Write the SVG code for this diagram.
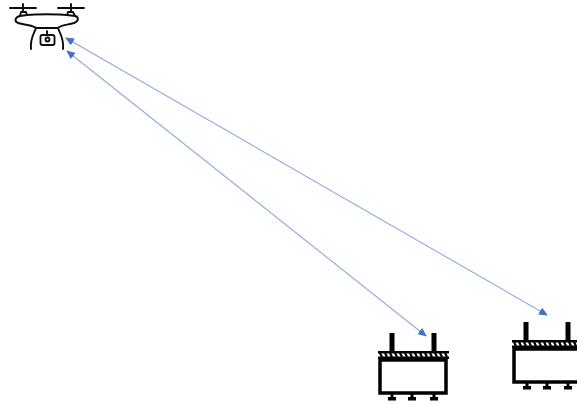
<svg xmlns="http://www.w3.org/2000/svg" width="577" height="405" viewBox="0 0 577 405">
<defs>
<filter id="soft" x="-5%" y="-5%" width="110%" height="110%"><feGaussianBlur stdDeviation="0.45"/></filter>
<marker id="ah" markerWidth="9" markerHeight="8" refX="8" refY="4" orient="auto-start-reverse" markerUnits="userSpaceOnUse"><path d="M0 0L9 4L0 8Z" fill="#4472c4"/></marker>
<g id="beam">
<rect x="0" y="0" width="71" height="2.500" fill="#000"/>
<rect x="0" y="5.500" width="71" height="2.500" fill="#000"/>
<path d="M2 2l2 4M7 2l2 4M12 2l2 4M17 2l2 4M22 2l2 4M27 2l2 4M32 2l2 4M37 2l2 4M42 2l2 4M47 2l2 4M52 2l2 4M57 2l2 4M62 2l2 4M67 2l2 4" stroke="#000" stroke-width="2.200" fill="none"/>
</g>
<g id="foot"><rect x="-1.500" y="0" width="3" height="6" fill="#000"/><rect x="-4" y="3" width="8" height="3.500" fill="#000"/></g>
</defs>
<style>
.c{stroke:#8faadc;stroke-width:1.100;fill:none;marker-start:url(#ah);marker-end:url(#ah)}
.d{stroke:#111;stroke-width:1.900;fill:none;stroke-linecap:round;stroke-linejoin:round}
</style>
<rect width="577" height="405" fill="#fff"/>
<g id="connectors">
<line class="c" x1="66" y1="38" x2="547" y2="315"/>
<line class="c" x1="67" y1="51" x2="426" y2="336"/>
</g>
<g id="drone" filter="url(#soft)">
<path class="d" d="M10 8H36M58 8H84M23 4V12M71 4V12"/>
<path class="d" d="M20 16L21 12H26L27 15M67 15L68 12H73L75 16"/>
<path class="d" d="M27 15C36 14 58 14 67 15L75 16C79 17 79 21 74 23C68 25 60 25 58 28H36C34 25 24 25 18 23C14 21 15 17 20 16Z"/>
<path class="d" d="M36 28C34 34 30 38 31 49M58 28C60 34 64 38 63 49"/>
<rect class="d" x="40.500" y="35" width="14" height="10" rx="2" stroke-width="2.200"/>
<circle class="d" cx="47.500" cy="39.500" r="2"/>
<path class="d" d="M47 31V34"/>
</g>
<g id="building1" filter="url(#soft)">
<rect x="389.500" y="333" width="5" height="19" fill="#000"/>
<rect x="431.500" y="333" width="5" height="19" fill="#000"/>
<use href="#beam" x="378" y="351"/>
<rect x="380" y="360" width="66" height="33" fill="#fff" stroke="#000" stroke-width="3.500"/>
<use href="#foot" x="392" y="394"/><use href="#foot" x="412" y="394"/><use href="#foot" x="434" y="394"/>
</g>
<g id="building2" filter="url(#soft)">
<rect x="523.500" y="322" width="5" height="19" fill="#000"/>
<rect x="565.500" y="322" width="5" height="19" fill="#000"/>
<use href="#beam" x="512" y="340"/>
<rect x="514" y="349" width="66" height="33" fill="#fff" stroke="#000" stroke-width="3.500"/>
<use href="#foot" x="527" y="383"/><use href="#foot" x="547" y="383"/><use href="#foot" x="568" y="383"/>
</g>
</svg>
